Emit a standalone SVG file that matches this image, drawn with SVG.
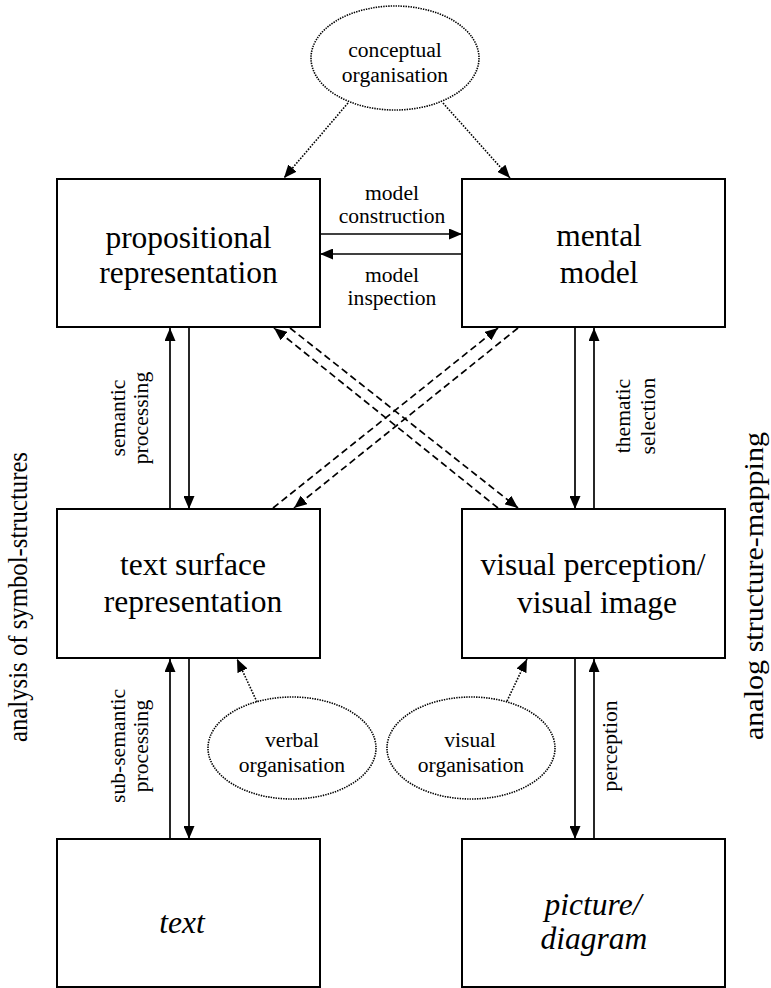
<svg xmlns="http://www.w3.org/2000/svg" width="771" height="988" viewBox="0 0 771 988">
<style>
.box{fill:#fff;stroke:#000;stroke-width:2}
.ell{fill:#fff;stroke:#000;stroke-width:1.6;stroke-dasharray:1.4,1.1}
.big{font-family:"Liberation Serif","Times New Roman",serif;font-size:31.5px;fill:#000;text-anchor:middle}
.it{font-style:italic}
.sm{font-family:"Liberation Serif","Times New Roman",serif;font-size:21.6px;fill:#000;text-anchor:middle}
.side{font-family:"Liberation Serif","Times New Roman",serif;font-size:27px;fill:#000;text-anchor:middle}
.solid{stroke:#000;stroke-width:1.7;fill:none}
.dash{stroke:#000;stroke-width:1.7;fill:none;stroke-dasharray:7,4}
.dot{stroke:#000;stroke-width:1.6;fill:none;stroke-dasharray:1.6,1.4}
</style>
<defs>
<marker id="ah" markerUnits="userSpaceOnUse" markerWidth="13" markerHeight="11" refX="13" refY="5.5" orient="auto" viewBox="0 0 13 11">
<path d="M0,0 L13,5.5 L0,11 z" fill="#000"/>
</marker>
</defs>
<rect width="771" height="988" fill="#fff"/>

<g id="connectors">
<line class="solid" x1="320" y1="234" x2="462" y2="234" marker-end="url(#ah)"/>
<line class="solid" x1="462" y1="254" x2="320" y2="254" marker-end="url(#ah)"/>
<line class="solid" x1="170" y1="509" x2="170" y2="328" marker-end="url(#ah)"/>
<line class="solid" x1="189" y1="328" x2="189" y2="509" marker-end="url(#ah)"/>
<line class="solid" x1="575" y1="328" x2="575" y2="509" marker-end="url(#ah)"/>
<line class="solid" x1="594" y1="509" x2="594" y2="328" marker-end="url(#ah)"/>
<line class="solid" x1="170" y1="839" x2="170" y2="659" marker-end="url(#ah)"/>
<line class="solid" x1="189" y1="659" x2="189" y2="839" marker-end="url(#ah)"/>
<line class="solid" x1="575" y1="659" x2="575" y2="839" marker-end="url(#ah)"/>
<line class="solid" x1="594" y1="839" x2="594" y2="659" marker-end="url(#ah)"/>
<line class="dash" x1="498" y1="508" x2="274" y2="328" marker-end="url(#ah)"/>
<line class="dash" x1="290" y1="328" x2="518" y2="508" marker-end="url(#ah)"/>
<line class="dash" x1="273" y1="508" x2="498" y2="328" marker-end="url(#ah)"/>
<line class="dash" x1="518" y1="328" x2="294" y2="508" marker-end="url(#ah)"/>
<line class="dot" x1="348" y1="103" x2="284" y2="178" marker-end="url(#ah)"/>
<line class="dot" x1="443" y1="103" x2="510" y2="178" marker-end="url(#ah)"/>
<line class="dot" x1="257" y1="702" x2="237" y2="659" marker-end="url(#ah)"/>
<line class="dot" x1="507" y1="701" x2="527" y2="659" marker-end="url(#ah)"/>
<text class="sm" x="392" y="200">model</text>
<text class="sm" x="392" y="223">construction</text>
<text class="sm" x="392" y="282">model</text>
<text class="sm" x="392" y="305">inspection</text>
<text class="sm" transform="translate(125,418) rotate(-90)">semantic</text>
<text class="sm" transform="translate(148,418) rotate(-90)">processing</text>
<text class="sm" transform="translate(630,416) rotate(-90)">thematic</text>
<text class="sm" transform="translate(655,416) rotate(-90)">selection</text>
<text class="sm" transform="translate(125,746) rotate(-90)">sub-semantic</text>
<text class="sm" transform="translate(148,746) rotate(-90)">processing</text>
<text class="sm" transform="translate(617,746) rotate(-90)">perception</text>
</g>

<g id="side-left">
<text class="side" transform="translate(27,597) rotate(-90)" textLength="290" lengthAdjust="spacingAndGlyphs">analysis of symbol-structures</text>
</g>
<g id="side-right">
<text class="side" transform="translate(763,586) rotate(-90)" textLength="308" lengthAdjust="spacingAndGlyphs">analog structure-mapping</text>
</g>

<g id="conceptual-organisation">
<ellipse class="ell" cx="395" cy="58" rx="84" ry="52"/>
<text class="sm" x="395" y="57">conceptual</text>
<text class="sm" x="395" y="82">organisation</text>
</g>

<g id="propositional-representation">
<rect class="box" x="57" y="179" width="263" height="148"/>
<text class="big" x="188.5" y="248">propositional</text>
<text class="big" x="188.5" y="283">representation</text>
</g>

<g id="mental-model">
<rect class="box" x="462" y="179" width="263" height="148"/>
<text class="big" x="599" y="246">mental</text>
<text class="big" x="599" y="283">model</text>
</g>

<g id="text-surface-representation">
<rect class="box" x="57" y="509" width="263" height="149"/>
<text class="big" x="193" y="575">text surface</text>
<text class="big" x="193" y="612">representation</text>
</g>

<g id="visual-perception">
<rect class="box" x="462" y="509" width="263" height="149"/>
<text class="big" x="593" y="575">visual perception/</text>
<text class="big" x="597" y="613">visual image</text>
</g>

<g id="verbal-organisation">
<ellipse class="ell" cx="292" cy="748" rx="84" ry="51"/>
<text class="sm" x="292" y="747">verbal</text>
<text class="sm" x="292" y="772">organisation</text>
</g>

<g id="visual-organisation">
<ellipse class="ell" cx="471" cy="748" rx="84" ry="51"/>
<text class="sm" x="470" y="747">visual</text>
<text class="sm" x="471" y="772">organisation</text>
</g>

<g id="text">
<rect class="box" x="57" y="839" width="263" height="148"/>
<text class="big it" x="182" y="933">text</text>
</g>

<g id="picture-diagram">
<rect class="box" x="462" y="839" width="263" height="148"/>
<text class="big it" x="593" y="915">picture/</text>
<text class="big it" x="594" y="949">diagram</text>
</g>
</svg>
